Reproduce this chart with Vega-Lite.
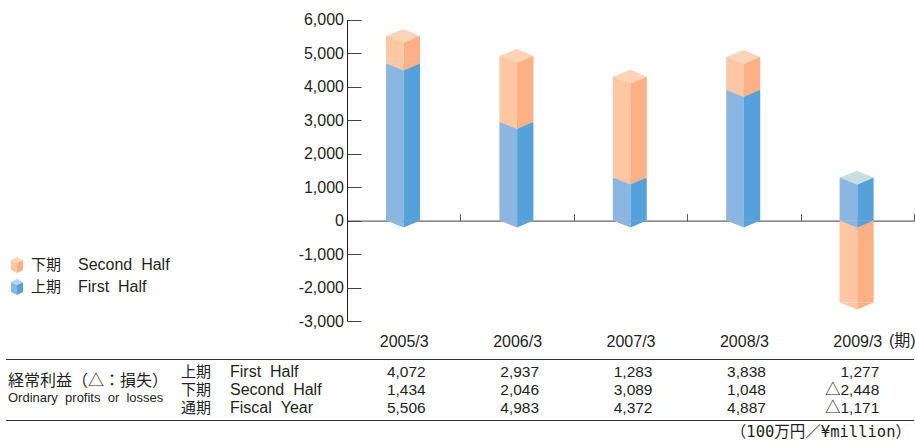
{
"$schema":"https://vega.github.io/schema/vega-lite/v6.json",
"width":915,"height":441,"padding":0,"autosize":{"type":"none"},
"background":"white",
"config":{"view":{"stroke":null},"text":{"font":"Liberation Sans, Noto Sans CJK JP","color":"#231f20"}},
"datasets":{
"bars":[
{"period":"2005/3","series":"First Half","low":0,"high":4690,"cap":false},
{"period":"2005/3","series":"Second Half","low":4690,"high":5506,"cap":true},
{"period":"2006/3","series":"First Half","low":0,"high":2937,"cap":false},
{"period":"2006/3","series":"Second Half","low":2937,"high":4910,"cap":true},
{"period":"2007/3","series":"First Half","low":0,"high":1283,"cap":false},
{"period":"2007/3","series":"Second Half","low":1283,"high":4290,"cap":true},
{"period":"2008/3","series":"First Half","low":0,"high":3895,"cap":false},
{"period":"2008/3","series":"Second Half","low":3895,"high":4880,"cap":true},
{"period":"2009/3","series":"Second Half","low":-2448,"high":0,"cap":false},
{"period":"2009/3","series":"First Half","low":0,"high":1277,"cap":true}
],
"table":[
{"period":"2005/3","row":4,"text":"4,072"},{"period":"2005/3","row":6,"text":"1,434"},{"period":"2005/3","row":8,"text":"5,506"},
{"period":"2006/3","row":4,"text":"2,937"},{"period":"2006/3","row":6,"text":"2,046"},{"period":"2006/3","row":8,"text":"4,983"},
{"period":"2007/3","row":4,"text":"1,283"},{"period":"2007/3","row":6,"text":"3,089"},{"period":"2007/3","row":8,"text":"4,372"},
{"period":"2008/3","row":4,"text":"3,838"},{"period":"2008/3","row":6,"text":"1,048"},{"period":"2008/3","row":8,"text":"4,887"},
{"period":"2009/3","row":4,"text":"1,277"},{"period":"2009/3","row":6,"text":"△2,448"},{"period":"2009/3","row":8,"text":"△1,171"}
],
"labels":[
{"col":3,"row":0,"text":"下期"},
{"col":3,"row":1,"text":"上期"},
{"col":5,"row":4,"text":"上期"},
{"col":5,"row":6,"text":"下期"},
{"col":5,"row":8,"text":"通期"}
],
"latin":[
{"col":4,"row":0,"text":"Second\u00a0\u00a0Half"},
{"col":4,"row":1,"text":"First\u00a0\u00a0Half"},
{"col":6,"row":4,"text":"First\u00a0\u00a0Half"},
{"col":6,"row":6,"text":"Second\u00a0\u00a0Half"},
{"col":6,"row":8,"text":"Fiscal\u00a0\u00a0Year"},
{"col":1,"row":5,"text":"経常利益（△：損失）"},
{"col":7,"row":2,"text":"(期)"}
],
"small":[{"col":1,"row":7,"text":"Ordinary\u00a0\u00a0profits\u00a0\u00a0or\u00a0\u00a0losses"}],
"unit":[{"col":8,"row":10,"text":"（100万円／¥million）"}],
"lines":[{"from":0,"to":9,"row":3},{"from":0,"to":9,"row":9}],
"legend":[{"series":"Second Half","col":2,"row":0},{"series":"First Half","col":2,"row":1}]
},
"layer":[
{"data":{"name":"bars"},"mark":{"type":"bar","width":17.7,"xOffset":-8.85},
"encoding":{
"x":{"field":"period","type":"nominal","scale":{"type":"band","domain":["2005/3","2006/3","2007/3","2008/3","2009/3"],"range":[347,914],"padding":0},
"axis":{"orient":"bottom","offset":-220.3,"title":null,"tickBand":"extent","tickSize":-7,"tickColor":"#555","domainColor":"#666","domainWidth":1.3,"labelPadding":120,"labelAngle":0,"labelFont":"Liberation Sans","labelFontSize":16,"labelColor":"#231f20","labelOverlap":false,"labelBaseline":"top","grid":false}},
"y":{"field":"low","type":"quantitative","scale":{"domain":[-3000,6000],"range":[321,19.5],"nice":false,"zero":false},
"axis":{"orient":"left","offset":-347,"title":null,"values":[-3000,-2000,-1000,0,1000,2000,3000,4000,5000,6000],"format":",d","labelExpr":"replace(datum.label,'−','-')","tickSize":-14,"tickColor":"#444","domainColor":"#222","labelPadding":17.5,"labelFont":"Liberation Sans","labelFontSize":16,"labelColor":"#231f20","grid":false,"labelOverlap":false}},
"y2":{"field":"high"},
"color":{"field":"series","type":"nominal","legend":null,"scale":{"domain":["First Half","Second Half"],"range":["#8cb6e2","#fdc7a4"]}}
}},
{"data":{"name":"bars"},"mark":{"type":"bar","width":16.3,"xOffset":8.15},
"encoding":{
"x":{"field":"period","type":"nominal","axis":null,"scale":{"type":"band","domain":["2005/3","2006/3","2007/3","2008/3","2009/3"],"range":[347,914],"padding":0}},
"y":{"field":"low","type":"quantitative","axis":null,"scale":{"domain":[-3000,6000],"range":[321,19.5],"nice":false,"zero":false}},
"y2":{"field":"high"},
"color":{"field":"series","type":"nominal","legend":null,"scale":{"domain":["First Half","Second Half"],"range":["#55a1db","#fcb083"]}}
}},
{"data":{"name":"bars"},"mark":{"type":"point","shape":"M-17.7,0 L0,0 L0,7 Z","size":4,"filled":true,"opacity":1,"strokeWidth":0},
"encoding":{
"x":{"field":"period","type":"nominal","axis":null,"scale":{"type":"band","domain":["2005/3","2006/3","2007/3","2008/3","2009/3"],"range":[347,914],"padding":0}},
"y":{"field":"low","type":"quantitative","axis":null,"scale":{"domain":[-3000,6000],"range":[321,19.5],"nice":false,"zero":false}},
"color":{"field":"series","type":"nominal","legend":null,"scale":{"domain":["First Half","Second Half"],"range":["#8cb6e2","#fdc7a4"]}}
}},
{"data":{"name":"bars"},"mark":{"type":"point","shape":"M0,0 L16.3,0 L0,7 Z","size":4,"filled":true,"opacity":1,"strokeWidth":0},
"encoding":{
"x":{"field":"period","type":"nominal","axis":null,"scale":{"type":"band","domain":["2005/3","2006/3","2007/3","2008/3","2009/3"],"range":[347,914],"padding":0}},
"y":{"field":"low","type":"quantitative","axis":null,"scale":{"domain":[-3000,6000],"range":[321,19.5],"nice":false,"zero":false}},
"color":{"field":"series","type":"nominal","legend":null,"scale":{"domain":["First Half","Second Half"],"range":["#55a1db","#fcb083"]}}
}},
{"data":{"name":"bars"},"transform":[{"filter":"datum.cap"}],"mark":{"type":"point","shape":"M-17.7,0 L0,-7 L16.3,0 L0,7 Z","size":4,"filled":true,"opacity":1,"strokeWidth":0},
"encoding":{
"x":{"field":"period","type":"nominal","axis":null,"scale":{"type":"band","domain":["2005/3","2006/3","2007/3","2008/3","2009/3"],"range":[347,914],"padding":0}},
"y":{"field":"high","type":"quantitative","axis":null,"scale":{"domain":[-3000,6000],"range":[321,19.5],"nice":false,"zero":false}},
"color":{"field":"series","type":"nominal","legend":null,"scale":{"domain":["First Half","Second Half"],"range":["#c6dfe3","#fdd4b7"]}}
}},
{"data":{"name":"table"},"mark":{"type":"text","align":"right","baseline":"middle","fontSize":15.5,"xOffset":22},
"encoding":{
"x":{"field":"period","type":"nominal","axis":null,"scale":{"type":"band","domain":["2005/3","2006/3","2007/3","2008/3","2009/3"],"range":[347,914],"padding":0}},
"y":{"field":"row","type":"quantitative","axis":null,"scale":{"domain":[0,1,2,3,4,5,6,7,8,9,10],"range":[265,287,341,359.5,372,381,390,398,408,420.5,432]}},
"text":{"field":"text"}
}},
{"data":{"name":"labels"},"mark":{"type":"text","align":"left","baseline":"middle","fontSize":15},
"encoding":{
"x":{"field":"col","type":"quantitative","axis":null,"scale":{"domain":[0,1,2,3,4,5,6,7,8,9],"range":[6,8,17,31,78,181,230,889,911,914]}},
"y":{"field":"row","type":"quantitative","axis":null,"scale":{"domain":[0,1,2,3,4,5,6,7,8,9,10],"range":[265,287,341,359.5,372,381,390,398,408,420.5,432]}},
"text":{"field":"text"}
}},
{"data":{"name":"latin"},"mark":{"type":"text","align":"left","baseline":"middle","fontSize":16},
"encoding":{
"x":{"field":"col","type":"quantitative","axis":null,"scale":{"domain":[0,1,2,3,4,5,6,7,8,9],"range":[6,8,17,31,78,181,230,889,911,914]}},
"y":{"field":"row","type":"quantitative","axis":null,"scale":{"domain":[0,1,2,3,4,5,6,7,8,9,10],"range":[265,287,341,359.5,372,381,390,398,408,420.5,432]}},
"text":{"field":"text"}
}},
{"data":{"name":"small"},"mark":{"type":"text","align":"left","baseline":"middle","fontSize":13},
"encoding":{
"x":{"field":"col","type":"quantitative","axis":null,"scale":{"domain":[0,1,2,3,4,5,6,7,8,9],"range":[6,8,17,31,78,181,230,889,911,914]}},
"y":{"field":"row","type":"quantitative","axis":null,"scale":{"domain":[0,1,2,3,4,5,6,7,8,9,10],"range":[265,287,341,359.5,372,381,390,398,408,420.5,432]}},
"text":{"field":"text"}
}},
{"data":{"name":"unit"},"mark":{"type":"text","align":"right","baseline":"middle","fontSize":15.5,"font":"DejaVu Sans Mono, Noto Sans CJK JP"},
"encoding":{
"x":{"field":"col","type":"quantitative","axis":null,"scale":{"domain":[0,1,2,3,4,5,6,7,8,9],"range":[6,8,17,31,78,181,230,889,911,914]}},
"y":{"field":"row","type":"quantitative","axis":null,"scale":{"domain":[0,1,2,3,4,5,6,7,8,9,10],"range":[265,287,341,359.5,372,381,390,398,408,420.5,432]}},
"text":{"field":"text"}
}},
{"data":{"name":"lines"},"mark":{"type":"rule","color":"#333","strokeWidth":1.2},
"encoding":{
"x":{"field":"from","type":"quantitative","axis":null,"scale":{"domain":[0,1,2,3,4,5,6,7,8,9],"range":[6,8,17,31,78,181,230,889,911,914]}},
"x2":{"field":"to"},
"y":{"field":"row","type":"quantitative","axis":null,"scale":{"domain":[0,1,2,3,4,5,6,7,8,9,10],"range":[265,287,341,359.5,372,381,390,398,408,420.5,432]}}
}},
{"data":{"name":"legend"},"mark":{"type":"point","shape":"M-6,-5 L0,-2 L0,8 L-6,5 Z","size":4,"filled":true,"opacity":1,"strokeWidth":0},
"encoding":{
"x":{"field":"col","type":"quantitative","axis":null,"scale":{"domain":[0,1,2,3,4,5,6,7,8,9],"range":[6,8,17,31,78,181,230,889,911,914]}},
"y":{"field":"row","type":"quantitative","axis":null,"scale":{"domain":[0,1,2,3,4,5,6,7,8,9,10],"range":[265,287,341,359.5,372,381,390,398,408,420.5,432]}},
"color":{"field":"series","type":"nominal","legend":null,"scale":{"domain":["First Half","Second Half"],"range":["#8cb6e2","#fdc7a4"]}}
}},
{"data":{"name":"legend"},"mark":{"type":"point","shape":"M0,-2 L6,-5 L6,5 L0,8 Z","size":4,"filled":true,"opacity":1,"strokeWidth":0},
"encoding":{
"x":{"field":"col","type":"quantitative","axis":null,"scale":{"domain":[0,1,2,3,4,5,6,7,8,9],"range":[6,8,17,31,78,181,230,889,911,914]}},
"y":{"field":"row","type":"quantitative","axis":null,"scale":{"domain":[0,1,2,3,4,5,6,7,8,9,10],"range":[265,287,341,359.5,372,381,390,398,408,420.5,432]}},
"color":{"field":"series","type":"nominal","legend":null,"scale":{"domain":["First Half","Second Half"],"range":["#55a1db","#fcb083"]}}
}},
{"data":{"name":"legend"},"mark":{"type":"point","shape":"M-6,-5 L0,-8 L6,-5 L0,-2 Z","size":4,"filled":true,"opacity":1,"strokeWidth":0},
"encoding":{
"x":{"field":"col","type":"quantitative","axis":null,"scale":{"domain":[0,1,2,3,4,5,6,7,8,9],"range":[6,8,17,31,78,181,230,889,911,914]}},
"y":{"field":"row","type":"quantitative","axis":null,"scale":{"domain":[0,1,2,3,4,5,6,7,8,9,10],"range":[265,287,341,359.5,372,381,390,398,408,420.5,432]}},
"color":{"field":"series","type":"nominal","legend":null,"scale":{"domain":["First Half","Second Half"],"range":["#b6d4ee","#fdd4b7"]}}
}}
],
"resolve":{"scale":{"x":"independent","y":"independent","color":"independent"},"axis":{"x":"independent","y":"independent"}}
}
